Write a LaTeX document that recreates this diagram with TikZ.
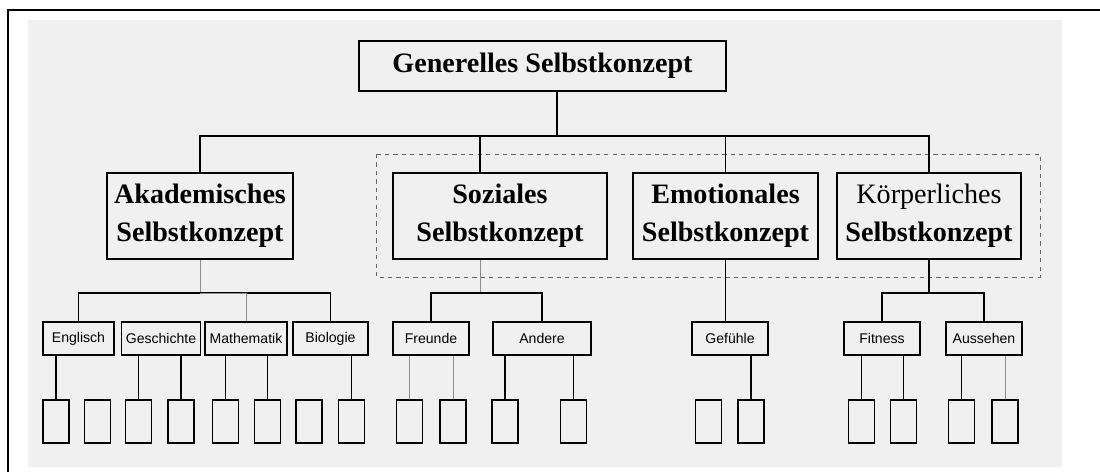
\documentclass[tikz,border=0pt]{standalone}
\usepackage{fontspec}
\setmainfont{Liberation Serif}
\setsansfont{Liberation Sans}
\begin{document}
\begin{tikzpicture}[x=0.025cm, y=-0.025cm]
  \tikzstyle{concept} = [rectangle, draw, line width = 0.9pt, minimum height = 2.15cm, inner xsep = 2pt, align = center, font = \bfseries\fontsize{20}{27}\selectfont]
  \tikzstyle{topic} = [rectangle, draw, line width = 0.9pt, minimum height = 0.825cm, minimum width = 1.9cm, font = \sffamily\fontsize{10}{12}\selectfont]
  \tikzstyle{leaf} = [rectangle, draw, line width = 0.9pt, minimum height = 1.075cm, minimum width = 0.65cm]
  \tikzstyle{link} = [-, line width = 0.9pt]
  \tikzstyle{faint} = [-, line width = 0.7pt, black!45]

  \useasboundingbox (0,0) rectangle (1100,472);
  \fill[black!6] (28,20) rectangle (1062,467);
  \draw[line width = 1.5pt] (8,472) -- (8,10) -- (1100,10);

  \node [concept, minimum width = 9.175cm, minimum height = 1.25cm] at (542.5,66) (gen) {Generelles Selbstkonzept};
  \node [concept, minimum width = 4.65cm] at (200,216) (akad) {Akademisches\\Selbstkonzept};
  \node [concept, minimum width = 5.35cm] at (500,216) (soz) {Soziales\\Selbstkonzept};
  \node [concept, minimum width = 4.625cm] at (725.5,216) (emo) {Emotionales\\Selbstkonzept};
  \node [concept, minimum width = 4.6cm, font = \fontsize{20}{27}\selectfont] at (929,216) (koerp) {Körperliches\\\textbf{Selbstkonzept}};
  \draw[dashed, line width = 0.7pt, black!60] (376,154) rectangle (1040,277);

  \node [topic, minimum width = 1.775cm] at (78.5,338.5) (engl) {Englisch};
  \node [topic] at (161,338.5) (gesch) {Geschichte};
  \node [topic] at (246,338.5) (mathe) {Mathematik};
  \node [topic, minimum width = 1.875cm] at (330.5,338.5) (bio) {Biologie};
  \node [topic] at (431,338.5) (freu) {Freunde};
  \node [topic, minimum width = 2.45cm] at (542,338.5) (and) {Andere};
  \node [topic] at (730,338.5) (gef) {Gefühle};
  \node [topic] at (882,338.5) (fit) {Fitness};
  \node [topic] at (984,338.5) (auss) {Aussehen};

  \foreach \name/\xa/\xb in {engl/56/97.5, gesch/138.5/181, mathe/225.5/267.5, bio/309/351.5, freu/409.5/453, and/505/573.5, gef/708.5/751, fit/861.5/903.5, auss/961.5/1005}{
    \node [leaf] at (\xa,421.5) (\name-a) {};
    \node [leaf] at (\xb,421.5) (\name-b) {};
  }

  \coordinate (genbus) at (557,136);
  \coordinate (sozx) at (480,136);
  \draw[link] (genbus |- gen.south) to (genbus);
  \draw[link] (akad.north) |- (genbus) -| (koerp.north);
  \draw[link] (genbus) -| (emo.north);
  \draw[link] (sozx) to (sozx |- soz.north);

  \coordinate (akbus) at (200,293);
  \draw[faint] (akad.south) to (akbus);
  \draw[link] (engl.north) |- (akbus) -| (bio.north);
  \draw[faint] (akbus) -| (mathe.north);

  \coordinate (sozbus) at (480,293);
  \draw[faint] (sozbus |- soz.south) to (sozbus);
  \draw[link] (freu.north) |- (sozbus) -| (and.north);

  \draw[link] (emo.south) to (emo.south |- gef.north);

  \coordinate (kbus) at (929,293);
  \draw[link] (koerp.south) to (kbus);
  \draw[link] (fit.north) |- (kbus) -| (auss.north);

  \foreach \leafnode/\topnode in {engl-a/engl, gesch-a/gesch, gesch-b/gesch, mathe-a/mathe, mathe-b/mathe, bio-b/bio, and-a/and, and-b/and, gef-b/gef, fit-a/fit, fit-b/fit, auss-a/auss}
    \draw[link] (\leafnode.north) to (\leafnode.north |- \topnode.south);
  \foreach \leafnode/\topnode in {freu-a/freu, freu-b/freu, auss-b/auss}
    \draw[faint] (\leafnode.north) to (\leafnode.north |- \topnode.south);
\end{tikzpicture}
\end{document}
